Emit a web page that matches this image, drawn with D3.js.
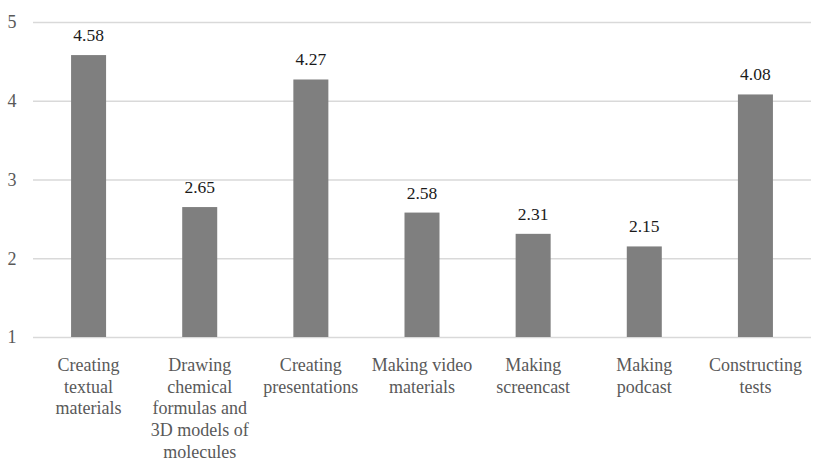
<!DOCTYPE html>
<html>
<head>
<meta charset="utf-8">
<script src="https://cdn.jsdelivr.net/npm/d3@7"></script>
<style>
  html, body { margin: 0; padding: 0; background: #fff; }
  svg { display: block; }
</style>
</head>
<body>
<svg id="chart" width="826" height="466"></svg>
<script>
// Categories (each label broken into its displayed lines)
const categories = [
  "Creating textual materials",
  "Drawing chemical formulas and 3D models of molecules",
  "Creating presentations",
  "Making video materials",
  "Making screencast",
  "Making podcast",
  "Constructing tests"
];
const categoryLines = [
  ["Creating", "textual", "materials"],
  ["Drawing", "chemical", "formulas and", "3D models of", "molecules"],
  ["Creating", "presentations"],
  ["Making video", "materials"],
  ["Making", "screencast"],
  ["Making", "podcast"],
  ["Constructing", "tests"]
];
const values = [4.58, 2.65, 4.27, 2.58, 2.31, 2.15, 4.08];
const yTicks = [1, 2, 3, 4, 5];

const svg = d3.select("#chart");
const margin = { left: 33, right: 15, top: 22, bottom: 129 };
const W = 826, H = 466;
const FONT = "Liberation Serif";

const x = d3.scaleBand()
  .domain(categories)
  .range([margin.left, W - margin.right])
  .paddingInner(0.685)
  .paddingOuter(0.3425);

const y = d3.scaleLinear()
  .domain([1, 5])
  .range([H - margin.bottom, margin.top]);

// Horizontal gridlines with value ticks
const yAxis = d3.axisLeft(y)
  .tickValues(yTicks)
  .tickFormat(d3.format("d"))
  .tickSize(-(W - margin.left - margin.right))
  .tickPadding(14);

const gy = svg.append("g")
  .attr("transform", `translate(${margin.left},0)`)
  .call(yAxis);
gy.select(".domain").remove();
gy.selectAll(".tick line").attr("stroke", "#d9d9d9").attr("stroke-width", 1.5);
gy.selectAll(".tick text")
  .attr("font-family", FONT)
  .attr("font-size", 18)
  .attr("fill", "#595959")
  .attr("text-anchor", "middle")
  .attr("x", -21);

// Bars
svg.append("g").selectAll("rect")
  .data(values)
  .join("rect")
  .attr("x", (d, i) => x(categories[i]))
  .attr("width", x.bandwidth())
  .attr("y", d => y(d))
  .attr("height", d => y(1) - y(d))
  .attr("fill", "#7f7f7f");

// Value labels above bars
svg.append("g").selectAll("text")
  .data(values)
  .join("text")
  .attr("font-family", FONT)
  .attr("font-size", 17.5)
  .attr("x", (d, i) => x(categories[i]) + x.bandwidth() / 2)
  .attr("y", d => y(d) - 14)
  .attr("text-anchor", "middle")
  .attr("fill", "#1a1a1a")
  .text(d => d.toFixed(2));

// Category labels below the axis
const xAxis = d3.axisBottom(x).tickSize(0).tickFormat("");
const gx = svg.append("g")
  .attr("transform", `translate(0,${y(1)})`)
  .call(xAxis);
gx.select(".domain").remove();
gx.selectAll(".tick").each(function(d, i) {
  const t = d3.select(this).append("text")
    .attr("font-family", FONT)
    .attr("font-size", 18)
    .attr("text-anchor", "middle")
    .attr("fill", "#595959");
  categoryLines[i].forEach((line, j) => {
    t.append("tspan").attr("x", 0).attr("y", 34 + j * 21.7).text(line);
  });
});
</script>
</body>
</html>
